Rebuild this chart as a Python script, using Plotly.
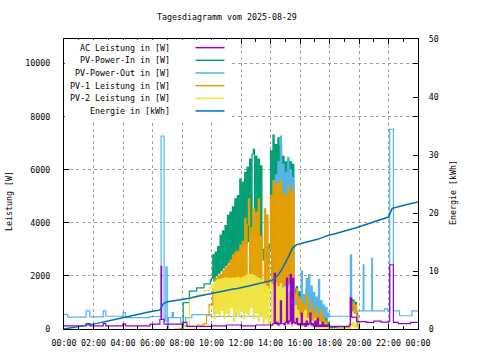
import plotly.graph_objects as go
import pandas as pd
from datetime import datetime, timedelta

DAY = datetime(2025, 8, 29)

def ts(lst):
    out = []
    for s in lst:
        h, m = map(int, s.split(":"))
        out.append(DAY + timedelta(hours=h, minutes=m))
    return out

# ---------------- time grids ----------------
grid_day = list(pd.date_range("2025-08-29 10:00", "2025-08-29 18:00", freq="5min"))   # 97
grid_aft = list(pd.date_range("2025-08-29 14:00", "2025-08-29 18:00", freq="5min"))   # 49
grid_energy = list(pd.date_range("2025-08-29 00:00", "2025-08-30 00:00", freq="15min"))  # 97

# ---------------- PV-Power-In [W] ----------------
green_pre_t = ["07:50", "08:00", "08:05", "08:30", "09:00", "09:30", "09:55"]
green_pre_v = [0, 0, 990, 1425, 1550, 1700, 1850]
green_day_v = [
    1920, 2790, 1800, 2900, 2000, 3100, 2100, 3540, 2200, 3700, 2300, 3900,
    2400, 4280, 2500, 4400, 2600, 4600, 2500, 4900, 2800, 5030, 2900, 5650,
    3000, 5530, 3100, 5900, 3200, 6100, 3300, 6400, 3500, 6600, 6770, 3600,
    6500, 3400, 6400, 3500, 6150, 3000, 2600, 3000, 2400, 3100, 2500, 3200,
    6710, 2000, 7300, 2200, 6950, 2100, 7200, 1500, 6900, 2000, 6500, 2200,
    6300, 1900, 6400, 2100, 6300, 2000, 6200, 1500, 1200, 1600, 900, 1400,
    600, 1300, 400, 1100, 300, 1500, 500, 900, 300, 1200, 400, 800,
    200, 1000, 300, 700, 200, 900, 300, 500, 150, 400, 100, 250,
    50]
green_post_t = ["18:30", "19:00", "19:20", "19:25", "19:30", "19:35", "19:40", "19:45", "19:50", "19:55", "20:00"]
green_post_v = [30, 50, 100, 1210, 800, 1100, 700, 1000, 600, 50, 0]

# ---------------- PV-1 Leistung [W] ----------------
orange_pre_t = ["07:30", "08:00", "08:30", "09:00", "09:30", "09:40", "09:50"]
orange_pre_v = [0, 120, 100, 150, 200, 500, 925]
orange_day_v = [
    900, 1500, 600, 1900, 800, 2000, 900, 2050, 1000, 2200, 1000, 2300,
    1100, 2400, 1000, 2600, 1200, 2790, 1100, 2900, 1300, 2930, 1400, 3160,
    1500, 3300, 1500, 4160, 1600, 3910, 4900, 1800, 3800, 1700, 4530, 1800,
    4400, 1600, 4900, 1700, 3500, 1500, 1200, 4530, 1100, 4300, 1500, 3000,
    5030, 1600, 5590, 1700, 5400, 1600, 5500, 1200, 5590, 1600, 5100, 1700,
    5000, 1600, 5400, 1700, 5150, 1500, 5280, 1300, 1100, 1500, 700, 1200,
    500, 1100, 300, 900, 200, 1300, 400, 700, 200, 1000, 300, 600,
    150, 800, 200, 500, 100, 700, 200, 400, 100, 300, 50, 150,
    0]
orange_post_t = ["18:30", "19:00", "19:20", "19:25", "19:30", "19:35", "19:40", "19:45", "19:50", "19:55", "20:00"]
orange_post_v = [20, 40, 80, 1130, 700, 1000, 600, 900, 500, 30, 0]

# ---------------- PV-2 Leistung [W] ----------------
yellow_pre_t = ["08:00", "08:30", "09:00", "09:30", "09:50"]
yellow_pre_v = [0, 1175, 1300, 1450, 1550]
yellow_day_v = [
    1620, 1700, 400, 1800, 600, 1860, 500, 1860, 700, 1900, 400, 1920,
    600, 1920, 500, 1900, 800, 1920, 300, 1920, 600, 1950, 500, 1920,
    700, 1950, 400, 2000, 600, 2050, 500, 2050, 800, 2050, 400, 2000,
    600, 1950, 300, 1900, 500, 1800, 200, 1700, 400, 1600, 200, 1500,
    1700, 200, 1650, 300, 1730, 150, 1600, 100, 1700, 300, 1500, 200,
    1600, 150, 1400, 300, 1500, 100, 1360, 200, 880, 300, 700, 200,
    500, 100, 600, 150, 700, 100, 400, 200, 500, 100, 300, 100,
    400, 50, 300, 50, 250, 50, 200, 30, 100, 20, 50, 10,
    0]
yellow_post_t = ["18:30", "19:00", "19:25", "19:30", "19:35", "19:40", "19:45", "19:50", "19:55", "20:00"]
yellow_post_v = [10, 20, 200, 100, 250, 80, 200, 60, 10, 0]

# ---------------- PV-Power-Out [W] ----------------
lb_pre_t = ["00:00", "00:15", "01:30", "01:45", "02:40", "02:50", "04:00", "04:10", "05:50",
            "06:35", "06:47", "06:54", "07:00", "07:05", "07:20", "07:25", "07:55", "08:15",
            "08:40", "10:00", "11:40", "11:50", "13:20"]
lb_pre_v = [550, 450, 680, 460, 680, 480, 615, 430, 470,
            7270, 300, 2330, 0, 430, 615, 430, 240, 430,
            540, 470, 615, 480, 500]
lb_aft_v = [
    500, 1500, 1800, 1600, 5800, 1500, 6300, 1400, 7270, 1500, 6200, 1600,
    5900, 1500, 6470, 1700, 6000, 1500, 5700, 1200, 800, 1500, 600, 1100,
    700, 2190, 500, 1300, 400, 1900, 500, 2050, 500, 1620, 450, 1380,
    500, 1200, 450, 1860, 500, 1060, 450, 900, 450, 810, 450, 600,
    480]
lb_post_t = ["19:20", "19:25", "19:30", "20:15", "20:17", "20:20", "20:50", "20:52", "20:55",
             "21:40", "21:45", "21:55", "22:05", "22:20", "22:40", "22:45", "23:30", "23:35", "24:00"]
lb_post_v = [470, 2790, 680, 680, 2420, 680, 680, 2670, 680,
             680, 765, 680, 7520, 680, 680, 500, 500, 680, 680]

# ---------------- AC Leistung [W] ----------------
pu_pre_t = ["00:00", "01:30", "01:45", "02:40", "02:50", "04:00", "04:10", "05:50", "06:30",
            "06:35", "06:37", "06:47", "08:05", "08:20", "10:00", "11:00", "12:00", "13:00"]
pu_pre_v = [120, 200, 120, 200, 120, 190, 120, 180, 365,
            2360, 365, 180, 250, 100, 120, 150, 120, 150]
pu_aft_v = [
    130, 150, 200, 2100, 200, 250, 150, 200, 1060, 200, 200, 150,
    250, 1920, 200, 300, 2050, 200, 1900, 250, 200, 400, 150, 200,
    150, 600, 150, 200, 100, 300, 150, 200, 600, 150, 200, 100,
    300, 100, 400, 100, 150, 100, 250, 100, 150, 100, 150, 100,
    100]
pu_post_t = ["19:20", "19:25", "19:30", "19:50", "20:30", "21:00", "21:30", "22:00", "22:05",
             "22:20", "22:40", "23:30", "24:00"]
pu_post_v = [150, 1175, 450, 280, 250, 300, 260, 300, 2420, 250, 200, 250, 220]

# ---------------- Energie [kWh] ----------------
energy_v = [
    0.00, 0.10, 0.20, 0.30, 0.40, 0.50, 0.60, 0.70,
    0.80, 0.95, 1.10, 1.25, 1.40, 1.55, 1.70, 1.82,
    1.95, 2.10, 2.25, 2.38, 2.50, 2.65, 2.78, 2.92,
    3.05, 3.15, 3.25, 4.40, 4.70, 4.80, 4.88, 4.96,
    5.05, 5.18, 5.32, 5.46, 5.60, 5.72, 5.85, 5.97,
    6.10, 6.24, 6.38, 6.52, 6.65, 6.76, 6.88, 6.99,
    7.10, 7.25, 7.40, 7.55, 7.70, 7.85, 8.00, 8.15,
    8.30, 8.60, 9.30, 10.20, 11.30, 12.60, 14.00, 14.50,
    14.70, 14.85, 14.95, 15.10, 15.30, 15.50, 15.75, 16.00,
    16.20, 16.35, 16.55, 16.70, 16.90, 17.05, 17.25, 17.40,
    17.60, 17.80, 18.05, 18.25, 18.50, 18.70, 18.90, 19.10,
    19.30, 20.80, 21.00, 21.15, 21.30, 21.45, 21.60, 21.75,
    21.90]

legend_labels = ["AC Leistung in [W]", "PV-Power-In in [W]", "PV-Power-Out in [W]",
                 "PV-1 Leistung in [W]", "PV-2 Leistung in [W]", "Energie in [kWh]"]
colors = ["#9400D3", "#009E73", "#56B4E9", "#E69F00", "#F0E442", "#0072B2"]

FONT = "DejaVu Sans Mono"
FS = 8.3

fig = go.Figure()

def add(x, y, color, axis="y", shape="hv", width=1.2):
    fig.add_trace(go.Scatter(x=x, y=y, mode="lines", yaxis=axis, showlegend=False,
                             line=dict(color=color, width=width, shape=shape),
                             hoverinfo="skip"))

add(ts(green_pre_t) + grid_day + ts(green_post_t), green_pre_v + green_day_v + green_post_v, colors[1])
add(ts(lb_pre_t) + grid_aft + ts(lb_post_t), lb_pre_v + lb_aft_v + lb_post_v, colors[2])
add(ts(orange_pre_t) + grid_day + ts(orange_post_t), orange_pre_v + orange_day_v + orange_post_v, colors[3])
add(ts(yellow_pre_t) + grid_day + ts(yellow_post_t), yellow_pre_v + yellow_day_v + yellow_post_v, colors[4])
add(ts(pu_pre_t) + grid_aft + ts(pu_post_t), pu_pre_v + pu_aft_v + pu_post_v, colors[0])
add(grid_energy, energy_v, colors[5], axis="y2", shape="linear", width=1.5)

# plot area in window pixels
L, R, T, B = 64, 418, 39, 331
W_PX, H_PX = R - L, B - T

def px(x):
    return (x - L) / W_PX

def py(y):
    return (B - y) / H_PX

annotations = []
shapes = []
# legend box
shapes.append(dict(type="rect", xref="paper", yref="paper", x0=0.002, x1=px(231), y0=py(121), y1=0.997,
                   fillcolor="white", line=dict(width=0), layer="above"))
for i, (lab, col) in enumerate(zip(legend_labels, colors)):
    yy = 47.7 + 12.75 * i
    annotations.append(dict(text=lab, xref="paper", yref="paper", x=px(172), y=py(yy),
                            xanchor="right", yanchor="middle", showarrow=False,
                            font=dict(family=FONT, size=FS, color="black")))
    shapes.append(dict(type="line", xref="paper", yref="paper", x0=px(195.5), x1=px(224.5),
                       y0=py(yy), y1=py(yy), line=dict(color=col, width=1.5), layer="above"))

annotations.append(dict(text="Tagesdiagramm vom 2025-08-29", xref="paper", yref="paper",
                        x=px(227), y=py(17), xanchor="center", yanchor="middle", showarrow=False,
                        font=dict(family=FONT, size=FS, color="black")))
annotations.append(dict(text="Leistung [W]", xref="paper", yref="paper", x=px(9.5), y=py(202.5),
                        xanchor="center", yanchor="middle", textangle=-90, showarrow=False,
                        font=dict(family=FONT, size=FS, color="black")))
annotations.append(dict(text="Energie [kWh]", xref="paper", yref="paper", x=px(453), y=py(194),
                        xanchor="center", yanchor="middle", textangle=-90, showarrow=False,
                        font=dict(family=FONT, size=FS, color="black")))

tickfont = dict(family=FONT, size=FS, color="black")
fig.update_layout(
    width=480, height=360,
    margin=dict(l=L, r=480 - R, t=T, b=360 - B, pad=0),
    paper_bgcolor="white", plot_bgcolor="white",
    showlegend=False,
    annotations=annotations, shapes=shapes,
    xaxis=dict(type="date", range=[DAY, DAY + timedelta(days=1)], dtick=7200000,
               tickformat="%H:%M", ticks="inside", ticklen=5, tickcolor="black",
               showline=True, linecolor="black", linewidth=1, mirror="ticks",
               showgrid=True, gridcolor="#a0a0a0", griddash="dot", gridwidth=1,
               zeroline=False, tickfont=tickfont, ticklabelstandoff=6,
               minor=dict(dtick=3600000, ticks="inside", ticklen=3, tickcolor="black", showgrid=False)),
    yaxis=dict(range=[0, 10925], dtick=2000, tickformat="d", ticks="inside", ticklen=5, tickcolor="black",
               showline=True, linecolor="black", linewidth=1, mirror="ticks",
               showgrid=True, gridcolor="#a0a0a0", griddash="dot", gridwidth=1,
               zeroline=False, tickfont=tickfont, ticklabelstandoff=11),
    yaxis2=dict(range=[0, 50], dtick=10, overlaying="y", side="right",
                ticks="inside", ticklen=5, tickcolor="black", showgrid=False, zeroline=False,
                showline=True, linecolor="black", linewidth=1,
                tickfont=tickfont, ticklabelstandoff=8),
)

# remove the browser's default 8px page margin so the 480x360 figure fills the window exactly
fig.write_html("out.html",
               config={"staticPlot": True, "displayModeBar": False},
               post_script="document.body.style.margin='0';document.body.style.overflow='hidden';")
